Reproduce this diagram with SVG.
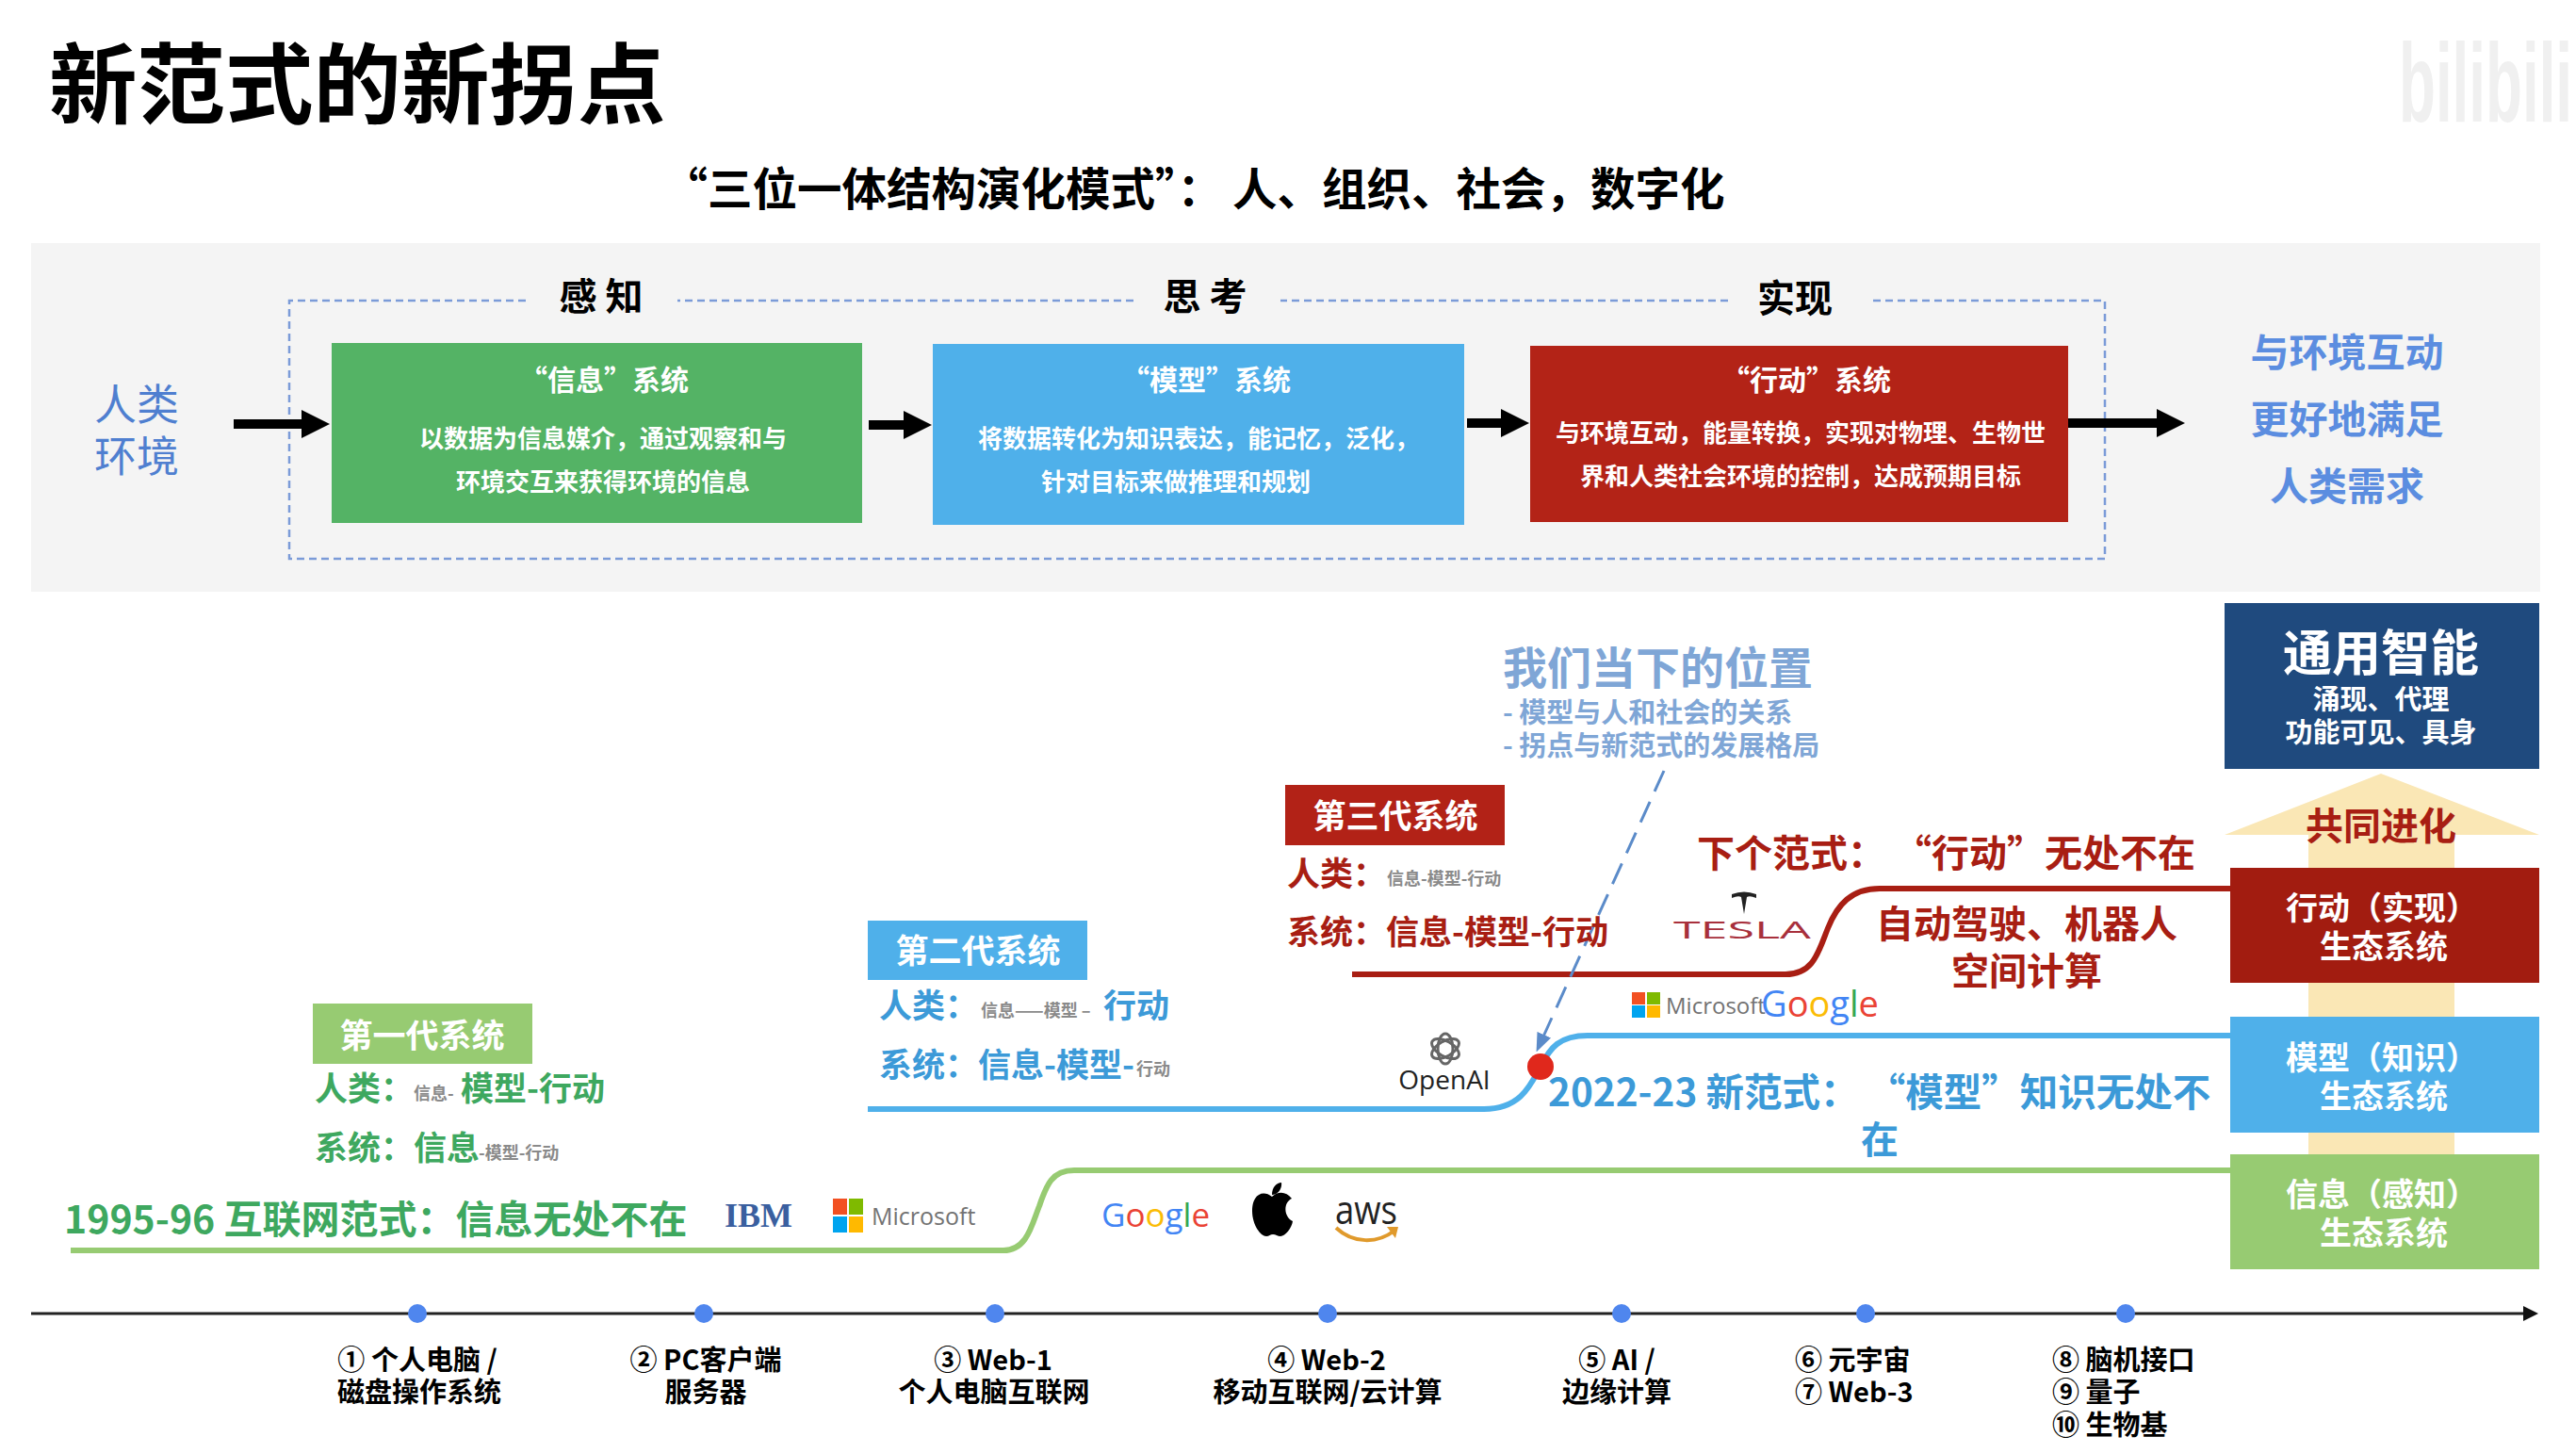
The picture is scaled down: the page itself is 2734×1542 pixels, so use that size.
<svg xmlns="http://www.w3.org/2000/svg" width="2734" height="1542" viewBox="0 0 2734 1542">
<defs>
<style>
text{font-family:"Noto Sans CJK SC","Noto Sans",sans-serif;font-weight:700;dominant-baseline:central}
.m{text-anchor:middle}
.w{fill:#fff}
.k{fill:#000}
.r{fill:#a81e13}
.b{fill:#3c9ad8}
.g{fill:#3ea85f}
.lb{fill:#7fa6d6}
.sm{fill:#8a8a8a;font-size:18px}
.t30{font-size:30px}
.t29{font-size:29px}
.b26{font-size:26px}
.s35{font-size:35px}
.f40{font-size:40px}
.f41{font-size:41px}
.eco{font-size:34px}
.logo{font-family:"Open Sans","Liberation Sans",sans-serif;font-weight:400}
.curve{fill:none;stroke-width:6}
.arrow{stroke:#000;stroke-width:10;fill:none;marker-end:url(#ah)}
.frame{fill:none;stroke:#7b9bd8;stroke-width:2.5;stroke-dasharray:8 5}
</style>
<marker id="ah" markerUnits="userSpaceOnUse" markerWidth="30" markerHeight="30" viewBox="0 0 30 30" refX="2" refY="15" orient="auto"><path d="M0 0L30 15L0 30Z" fill="#000"/></marker>
<marker id="tl" markerUnits="userSpaceOnUse" markerWidth="16" markerHeight="16" viewBox="0 0 16 16" refX="2" refY="8" orient="auto"><path d="M0 0L16 8L0 16Z" fill="#111"/></marker>
<marker id="da" markerUnits="userSpaceOnUse" markerWidth="20" markerHeight="16" viewBox="0 0 20 16" refX="2" refY="8" orient="auto"><path d="M0 0L20 8L0 16Z" fill="#5b8bc9"/></marker>
</defs>
<rect width="2734" height="1542" fill="#fff"/>
<text id="watermark" transform="translate(2546 88) scale(0.54 1)" font-size="118" style="font-family:'Liberation Sans',sans-serif;font-weight:700" fill="#f0f0f0">bilibili</text>
<g id="header">
<text x="52" y="83" font-size="93.5" class="k">新范式的新拐点</text>
<text x="1267" y="197" font-size="47.5" class="k m">“三位一体结构演化模式”： 人、组织、社会，数字化</text>
</g>
<rect id="panel" x="33" y="258" width="2663" height="370" fill="#f4f4f4"/>
<g id="frame">
<path class="frame" d="M558 319H307V593H2234V319H1983M1834 319H1359M1203 319H719"/>
<text x="638" y="312" font-size="40" class="k m">感 知</text>
<text x="1279" y="312" font-size="40" class="k m">思 考</text>
<text x="1905" y="314" font-size="40" class="k m">实现</text>
</g>
<g id="human-env"><text x="145" y="426" font-size="45" class="m" fill="#4f7fd0" style="font-weight:400">人类</text><text x="145" y="481" font-size="45" class="m" fill="#4f7fd0" style="font-weight:400">环境</text></g>
<g id="info-system"><rect x="352" y="364" width="563" height="191" fill="#54b365"/>
<text x="641" y="401" class="t30 w m">“信息”系统</text><text x="640" y="463" class="b26 w m">以数据为信息媒介，通过观察和与</text><text x="640" y="509" class="b26 w m">环境交互来获得环境的信息</text></g>
<g id="model-system"><rect x="990" y="365" width="564" height="192" fill="#4fb0ea"/>
<text x="1280" y="401" class="t30 w m">“模型”系统</text><text x="1272" y="463" class="b26 w m">将数据转化为知识表达，能记忆，泛化，</text><text x="1248" y="509" class="b26 w m">针对目标来做推理和规划</text></g>
<g id="action-system"><rect x="1624" y="367" width="571" height="187" fill="#b32317"/>
<text x="1917" y="401" class="t30 w m">“行动”系统</text><text x="1911" y="457" class="b26 w m">与环境互动，能量转换，实现对物理、生物世</text><text x="1911" y="503" class="b26 w m">界和人类社会环境的控制，达成预期目标</text></g>
<g id="goal"><text x="2491" y="371" class="f41 m" fill="#5b8de0">与环境互动</text><text x="2491" y="442" class="f41 m" fill="#5b8de0">更好地满足</text><text x="2491" y="513" class="f41 m" fill="#5b8de0">人类需求</text></g>

<g id="coevolve"><path d="M2527 821L2695 886H2605V1225H2450V886H2361Z" fill="#fae7b5"/><text x="2527" y="874" class="f40 r m">共同进化</text></g>
<g id="connectors">
<line class="arrow" x1="248" y1="450" x2="322" y2="450"/>
<line class="arrow" x1="922" y1="451" x2="961" y2="451"/>
<line class="arrow" x1="1557" y1="449" x2="1595" y2="449"/>
<line class="arrow" x1="2195" y1="449" x2="2291" y2="449"/>
<path class="curve" stroke="#97cb72" d="M75 1327H1065C1090 1327 1095 1300 1103 1280C1110 1260 1115 1242 1140 1242H2367"/>
<path class="curve" stroke="#4fb0ea" d="M921 1177H1575C1615 1177 1625 1150 1635 1132C1645 1112 1655 1099 1685 1099H2367"/>
<path class="curve" stroke="#a81e13" d="M1435 1034H1895C1925 1034 1930 1010 1940 985C1950 960 1965 943 1995 943H2367"/>
<line x1="1766" y1="818" x2="1638" y2="1100" stroke="#5b8bc9" stroke-width="3" stroke-dasharray="24 12" marker-end="url(#da)"/>
<line x1="33" y1="1394" x2="2680" y2="1394" stroke="#222" stroke-width="3" marker-end="url(#tl)"/>
</g>
<circle id="now-dot" cx="1635" cy="1132" r="14" fill="#e0281c"/>
<g id="agi"><rect x="2361" y="640" width="334" height="176" fill="#1f4a7e"/>
<text x="2527" y="689" font-size="52" class="w m">通用智能</text><text x="2527" y="740" font-size="29" class="w m">涌现、代理</text><text x="2527" y="775" font-size="29" class="w m">功能可见、具身</text></g>
<g id="action-eco"><rect x="2367" y="921" width="328" height="122" fill="#a21c10"/><text x="2528" y="961" class="eco w m">行动（实现）</text><text x="2530" y="1002" class="eco w m">生态系统</text></g>
<g id="model-eco"><rect x="2367" y="1079" width="328" height="123" fill="#4fb0ea"/><text x="2528" y="1120" class="eco w m">模型（知识）</text><text x="2530" y="1161" class="eco w m">生态系统</text></g>
<g id="info-eco"><rect x="2367" y="1225" width="328" height="122" fill="#97cb72"/><text x="2528" y="1265" class="eco w m">信息（感知）</text><text x="2530" y="1306" class="eco w m">生态系统</text></g>

<g id="now-label"><text x="1595" y="705" font-size="47" class="lb">我们当下的位置</text><text x="1595" y="754" font-size="29" class="lb">- 模型与人和社会的关系</text><text x="1595" y="789" font-size="29" class="lb">- 拐点与新范式的发展格局</text></g>
<g id="gen3"><rect x="1364" y="833" width="233" height="64" fill="#b22217"/><text x="1481" y="863" font-size="35" class="w m">第三代系统</text>
<text x="1366" y="924" class="s35 r">人类：</text><text x="1472" y="931" class="sm">信息-模型-行动</text>
<text x="1366" y="986" class="s35 r">系统：信息-模型-行动</text></g>
<g id="gen2"><rect x="921" y="977" width="233" height="63" fill="#4fb0ea"/><text x="1038" y="1006" font-size="35" class="w m">第二代系统</text>
<text x="933" y="1064" class="s35 b">人类：</text><text x="1041" y="1071" class="sm">信息——模型 –</text><text x="1171" y="1064" class="s35 b">行动</text>
<text x="933" y="1127" class="s35 b">系统：信息-模型-</text><text x="1206" y="1133" class="sm">行动</text></g>
<g id="gen1"><rect x="332" y="1065" width="233" height="64" fill="#97cb72"/><text x="448" y="1096" font-size="35" class="w m">第一代系统</text>
<text x="334" y="1152" class="s35 g">人类：</text><text x="439" y="1159" class="sm">信息-</text><text x="489" y="1152" class="s35 g">模型-行动</text>
<text x="334" y="1215" class="s35 g">系统：信息</text><text x="508" y="1222" class="sm">-模型-行动</text></g>

<g id="paradigm3"><text x="1801" y="903" class="f40 r">下个范式： “行动”无处不在</text><text x="2151" y="978" class="f40 r m">自动驾驶、机器人</text><text x="2151" y="1028" class="f40 r m">空间计算</text></g>
<text id="paradigm2" font-size="40.5" class="b" x="1643" y="1156" xml:space="preserve">2022-23 新范式： “模型”知识无处不</text>
<text id="paradigm2b" class="f40 b m" x="1995" y="1207">在</text>
<text id="paradigm1" class="f41 g" x="68" y="1291">1995-96 互联网范式：信息无处不在</text>

<g id="logo-ibm"><text x="769" y="1290" style="font-family:'Liberation Serif',serif;font-weight:700" font-size="36" fill="#3a5f9f">IBM</text></g>
<g id="logo-microsoft-1"><rect x="884" y="1272" width="15" height="17" fill="#f25022"/><rect x="901" y="1272" width="15" height="17" fill="#7fba00"/><rect x="884" y="1291" width="15" height="17" fill="#00a4ef"/><rect x="901" y="1291" width="15" height="17" fill="#ffb900"/><text x="925" y="1290" class="logo" font-size="25" fill="#737373">Microsoft</text></g>
<g id="logo-google-1"><text x="1169" y="1288" class="logo" font-size="35"><tspan fill="#4285f4">G</tspan><tspan fill="#ea4335">o</tspan><tspan fill="#fbbc05">o</tspan><tspan fill="#4285f4">g</tspan><tspan fill="#34a853">l</tspan><tspan fill="#ea4335">e</tspan></text></g>
<g id="logo-apple"><path d="M1350 1270C1340 1262 1329 1268 1329 1285C1329 1300 1338 1312 1344 1312C1347 1312 1348 1310 1351 1310C1354 1310 1356 1312 1359 1312C1364 1312 1371 1303 1372 1296C1362 1291 1362 1276 1371 1272C1365 1264 1356 1264 1350 1270ZM1350 1268C1350 1260 1355 1255 1360 1255C1361 1262 1356 1268 1350 1268Z" fill="#000"/></g>
<g id="logo-aws"><text x="1417" y="1282" class="logo" font-size="42" fill="#222" textLength="66" lengthAdjust="spacingAndGlyphs">aws</text><path d="M1418 1303C1436 1320 1462 1320 1480 1306" fill="none" stroke="#e09a2c" stroke-width="4"/><path d="M1472 1302L1484 1302L1481 1314Z" fill="#e09a2c"/></g>
<g id="logo-openai"><g fill="none" stroke="#666" stroke-width="3"><ellipse cx="1534" cy="1113" rx="8" ry="16"/><ellipse cx="1534" cy="1113" rx="8" ry="16" transform="rotate(60 1534 1113)"/><ellipse cx="1534" cy="1113" rx="8" ry="16" transform="rotate(120 1534 1113)"/></g><text x="1533" y="1145" class="logo m" font-size="28" fill="#222">OpenAI</text></g>
<g id="logo-microsoft-2"><rect x="1732" y="1053" width="14" height="13" fill="#f25022"/><rect x="1748" y="1053" width="14" height="13" fill="#7fba00"/><rect x="1732" y="1067" width="14" height="13" fill="#00a4ef"/><rect x="1748" y="1067" width="14" height="13" fill="#ffb900"/><text x="1768" y="1066" class="logo" font-size="24" fill="#737373">Microsoft</text></g>
<g id="logo-google-2"><text x="1869" y="1064" class="logo" font-size="38"><tspan fill="#4285f4">G</tspan><tspan fill="#ea4335">o</tspan><tspan fill="#fbbc05">o</tspan><tspan fill="#4285f4">g</tspan><tspan fill="#34a853">l</tspan><tspan fill="#ea4335">e</tspan></text></g>
<g id="logo-tesla"><path d="M1838 949Q1851 944 1864 949L1864 953Q1857 950 1854 952L1851 970L1848 952Q1845 950 1838 953Z" fill="#222"/><text x="1776" y="986" class="logo" font-size="26" fill="#a8303c" textLength="146" lengthAdjust="spacingAndGlyphs">TESLA</text></g>

<g id="timeline"><g fill="#4f86ee"><circle cx="443" cy="1394" r="10"/><circle cx="747" cy="1394" r="10"/><circle cx="1056" cy="1394" r="10"/><circle cx="1409" cy="1394" r="10"/><circle cx="1721" cy="1394" r="10"/><circle cx="1980" cy="1394" r="10"/><circle cx="2256" cy="1394" r="10"/></g></g>
<g id="t1"><text class="t29 k m" x="443" y="1441">① 个人电脑 /</text><text class="t29 k m" x="445" y="1475">磁盘操作系统</text></g>
<g id="t2"><text class="t29 k m" x="749" y="1441">② PC客户端</text><text class="t29 k m" x="749" y="1475">服务器</text></g>
<g id="t3"><text class="t29 k m" x="1054" y="1441">③ Web-1</text><text class="t29 k m" x="1055" y="1475">个人电脑互联网</text></g>
<g id="t4"><text class="t29 k m" x="1408" y="1441">④ Web-2</text><text class="t29 k m" x="1409" y="1475">移动互联网/云计算</text></g>
<g id="t5"><text class="t29 k m" x="1716" y="1441">⑤ AI /</text><text class="t29 k m" x="1716" y="1475">边缘计算</text></g>
<g id="t6"><text class="t29 k" x="1905" y="1441">⑥ 元宇宙</text><text class="t29 k" x="1905" y="1475">⑦ Web-3</text></g>
<g id="t7"><text class="t29 k" x="2178" y="1441">⑧ 脑机接口</text><text class="t29 k" x="2178" y="1475">⑨ 量子</text><text class="t29 k" x="2178" y="1510">⑩ 生物基</text></g>
</svg>
